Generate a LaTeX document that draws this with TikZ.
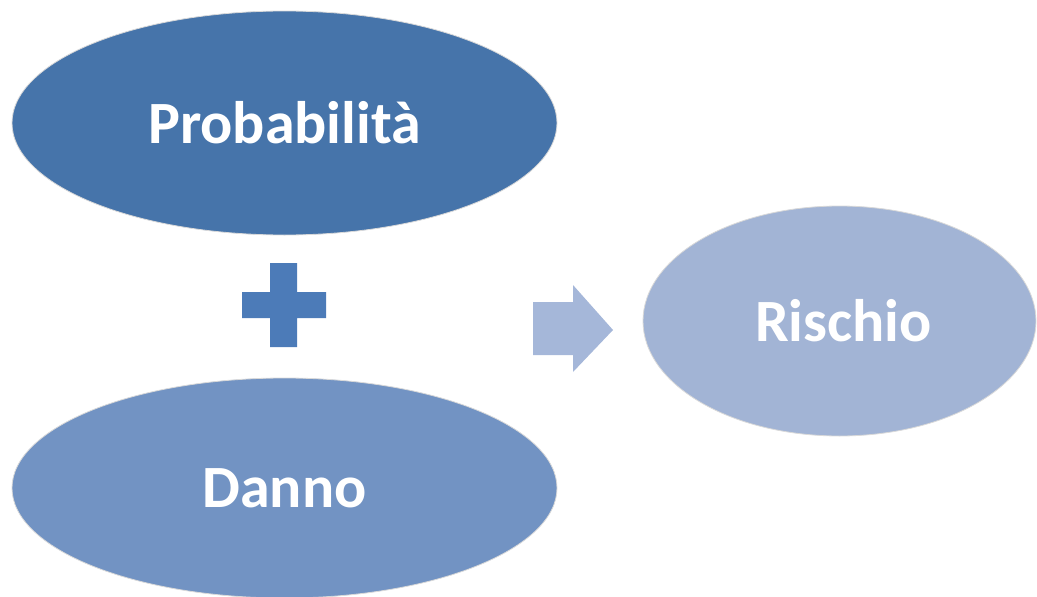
\documentclass[tikz,border=0pt]{standalone}
\usepackage{fontspec}
\setmainfont{Carlito}
\usetikzlibrary{shapes.geometric}
\definecolor{probc}{HTML}{4674AA}
\definecolor{dannoc}{HTML}{7293C3}
\definecolor{rischc}{HTML}{A2B4D5}
\definecolor{plusc}{HTML}{4C7BB8}
\definecolor{arrc}{HTML}{A5B7D9}
\tikzset{
  oval/.style={ellipse, draw=black!15, line width=0.8pt, inner sep=0pt,
    text=white, font=\fontsize{60}{60}\selectfont\bfseries},
}
\begin{document}
\begin{tikzpicture}[x=1pt,y=-1pt]
\useasboundingbox (0,0) rectangle (1037,597);
\node[oval, fill=probc, minimum width=545, minimum height=224] (prob) at (284.5,123) {Probabilità};
\node[oval, fill=dannoc, minimum width=545, minimum height=220] (danno) at (284.5,488) {Danno};
\node[oval, fill=rischc, minimum width=393, minimum height=230] (risc) at (839.5,321) {\hspace{8pt}Rischio};
% plus sign
\fill[plusc] (242,292) -- (270,292) -- (270,263) -- (297,263) -- (297,292) -- (326,292)
  -- (326,318) -- (297,318) -- (297,347) -- (270,347) -- (270,318) -- (242,318) -- cycle;
% block arrow
\fill[arrc] (533,302) -- (573,302) -- (573,285) -- (613,330) -- (573,372) -- (573,355) -- (533,355) -- cycle;
\end{tikzpicture}
\end{document}
